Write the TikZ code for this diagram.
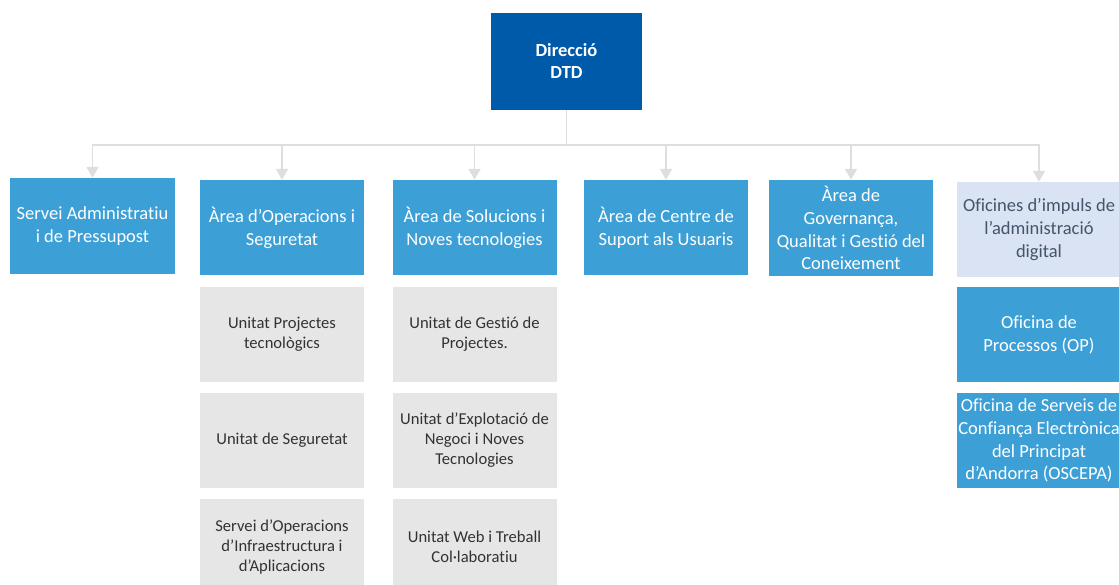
\documentclass[tikz,border=0pt]{standalone}
\usepackage{fontspec}
\setmainfont{Carlito}[Ligatures=NoCommon]
\usetikzlibrary{arrows.meta}
\definecolor{dirblue}{RGB}{0,90,170}
\definecolor{areablue}{RGB}{60,160,215}
\definecolor{paleblue}{RGB}{218,227,243}
\definecolor{unitgray}{RGB}{230,230,230}
\definecolor{conngray}{RGB}{222,222,222}
\definecolor{slate}{RGB}{68,84,106}
\definecolor{darktext}{RGB}{50,50,50}
\tikzset{
  box/.style={rectangle, inner sep=0pt, align=center, minimum width=164pt, minimum height=95pt},
  dirbox/.style={box, fill=dirblue, text=white, minimum width=151pt, minimum height=97pt,
    font=\fontsize{18.5}{22}\selectfont\bfseries},
  areabox/.style={box, fill=areablue, text=white, font=\fontsize{18.5}{22.8}\selectfont},
  palebox/.style={box, fill=paleblue, text=slate, font=\fontsize{18.5}{22.8}\selectfont},
  unitbox/.style={box, fill=unitgray, text=darktext, font=\fontsize{16.6}{20}\selectfont},
  conn/.style={draw=conngray, line width=1.8pt},
  connarrow/.style={conn, -{Triangle[width=12pt,length=11pt,fill=conngray]}}
}
\begin{document}
\begin{tikzpicture}[x=1pt,y=-1pt]
\useasboundingbox (0,0) rectangle (1119,585);
\node[dirbox] (d) at (566.5,61.5) {Direcció\\DTD};
\node[areabox, minimum height=96pt, minimum width=165pt] (b1) at (92.5,226) {Servei Administratiu\\i de Pressupost};
\node[areabox] (b2) at (282,227.5) {Àrea d’Operacions i\\Seguretat};
\node[areabox] (b3) at (474.5,227.5) {Àrea de Solucions i\\Noves tecnologies};
\node[areabox] (b4) at (666,227.5) {Àrea de Centre de\\Suport als Usuaris};
\node[areabox, minimum height=96pt] (b5) at (851,228) {Àrea de\\Governança,\\Qualitat i Gestió del\\Coneixement};
\node[palebox] (b6) at (1039,229.5) {Oficines d’impuls de\\l’administració\\digital};
\node[areabox] (o1) at (1039,334.5) {Oficina de\\Processos (OP)};
\node[areabox] (o2) at (1039,440.5) {Oficina de Serveis de\\Confiança Electrònica\\del Principat\\d’Andorra (OSCEPA)};
\node[unitbox] (u21) at (282,334.5) {Unitat Projectes\\tecnològics};
\node[unitbox] (u22) at (282,440.5) {Unitat de Seguretat};
\node[unitbox] (u23) at (282,546.5) {Servei d’Operacions\\d’Infraestructura i\\d’Aplicacions};
\node[unitbox] (u31) at (474.5,334.5) {Unitat de Gestió de\\Projectes.};
\node[unitbox] (u32) at (474.5,440.5) {Unitat d’Explotació de\\Negoci i Noves\\Tecnologies};
\node[unitbox] (u33) at (474.5,546.5) {Unitat Web i Treball\\Col·laboratiu};
\coordinate (spine) at (d.south |- 0,145);
\draw[conn] (d.south) -- (spine);
\foreach \b in {b1,b2,b3,b4,b5,b6}{
  \draw[connarrow] (spine) -| (\b.north);
}
\end{tikzpicture}
\end{document}
